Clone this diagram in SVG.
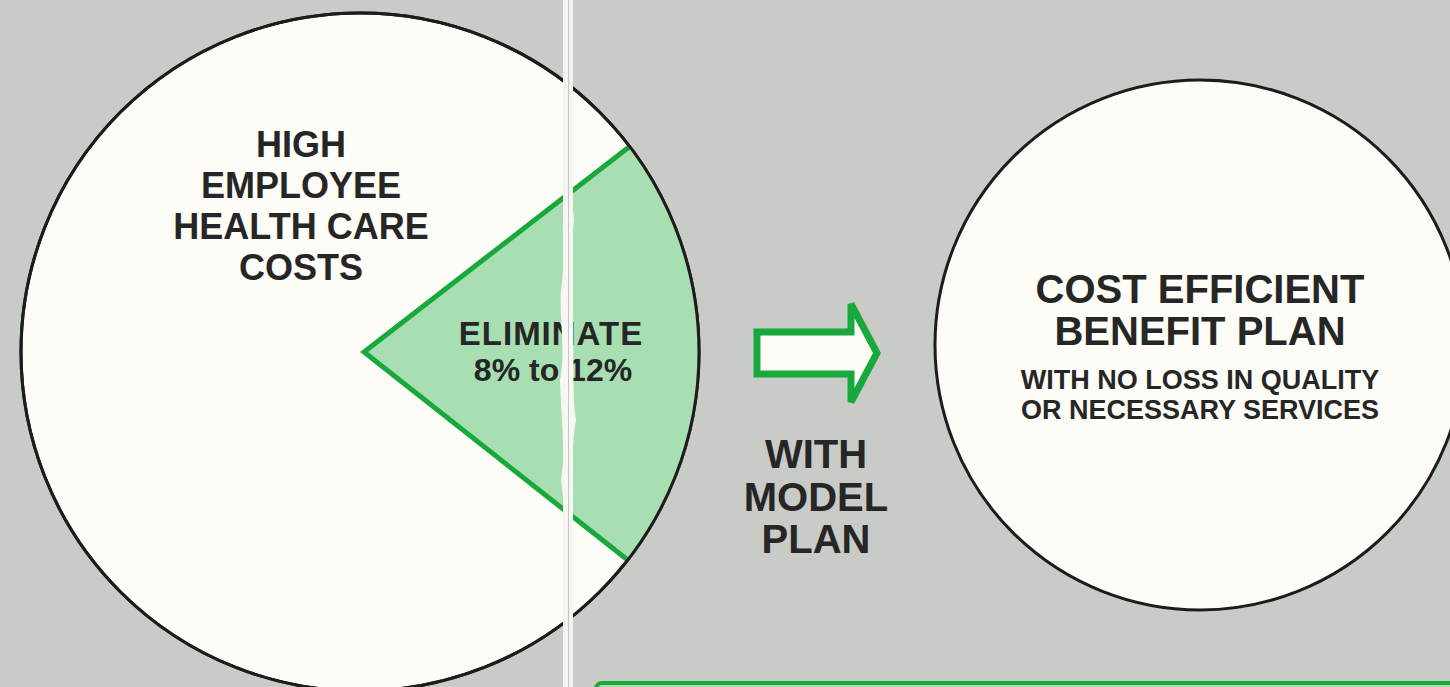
<svg xmlns="http://www.w3.org/2000/svg" width="1450" height="687" viewBox="0 0 1450 687">
  <style>
    .t { font-family: "Liberation Sans", Arial, Helvetica, sans-serif; font-weight: bold; fill: #262626; text-anchor: middle; }
    .disc { fill: #fdfcf6; stroke: #1c1c1c; stroke-width: 3; }
    .ring { fill: none; stroke: #1c1c1c; stroke-width: 3; }
  </style>
  <rect x="0" y="0" width="1450" height="687" fill="#c8cbc6"/>

  <g id="node-costs">
    <circle class="disc" cx="360" cy="352" r="339"/>
    <text class="t" x="301" y="157" font-size="36">HIGH</text>
    <text class="t" x="301" y="198" font-size="36">EMPLOYEE</text>
    <text class="t" x="301" y="239" font-size="36">HEALTH CARE</text>
    <text class="t" x="301" y="280" font-size="36">COSTS</text>
  </g>

  <g id="node-eliminate">
    <path d="M629,147 A339,339 0 0 1 629,561 L364,352 Z" fill="#a8dfb2"/>
    <polyline points="629,147 364,352 629,561" fill="none" stroke="#19a83b" stroke-width="5" stroke-linejoin="miter"/>
    <circle class="ring" cx="360" cy="352" r="339"/>
    <text class="t" x="551" y="345" font-size="33" letter-spacing="1">ELIMINATE</text>
    <text class="t" x="553" y="381" font-size="32">8% to 12%</text>
  </g>

  <g id="node-benefit">
    <circle class="disc" cx="1200" cy="345" r="265"/>
    <text class="t" x="1200" y="303" font-size="40">COST EFFICIENT</text>
    <text class="t" x="1200" y="345" font-size="40">BENEFIT PLAN</text>
    <text class="t" x="1200" y="389" font-size="27">WITH NO LOSS IN QUALITY</text>
    <text class="t" x="1200" y="419" font-size="27">OR NECESSARY SERVICES</text>
  </g>

  <g id="connectors">
    <path d="M757,332 H851 V304 L877,353 L851,402 V374 H757 Z" fill="#fdfcf6" stroke="#19a83b" stroke-width="7" stroke-linejoin="miter"/>
    <text class="t" x="816" y="468" font-size="40">WITH</text>
    <text class="t" x="816" y="511" font-size="40">MODEL</text>
    <text class="t" x="816" y="553" font-size="40">PLAN</text>
  </g>

  <g id="node-bottom">
    <rect x="596" y="683" width="880" height="40" rx="6" fill="#a8dfb2" stroke="#19a83b" stroke-width="4"/>
  </g>

  <g id="fold">
    <rect x="563" y="0" width="10" height="687" fill="#f4f4f0"/>
    <path d="M565,200 C560,230 566,260 561,290 C559,320 566,350 560,380 C561,420 566,450 561,480 C563,500 566,510 565,520 L572,520 C575,490 570,450 576,420 C571,390 576,350 571,320 C575,290 570,250 574,220 L572,200 Z" fill="#f7f7f3"/>
    <line x1="568.5" y1="0" x2="568.5" y2="687" stroke="#c4c7c2" stroke-width="1"/>
  </g>
</svg>
